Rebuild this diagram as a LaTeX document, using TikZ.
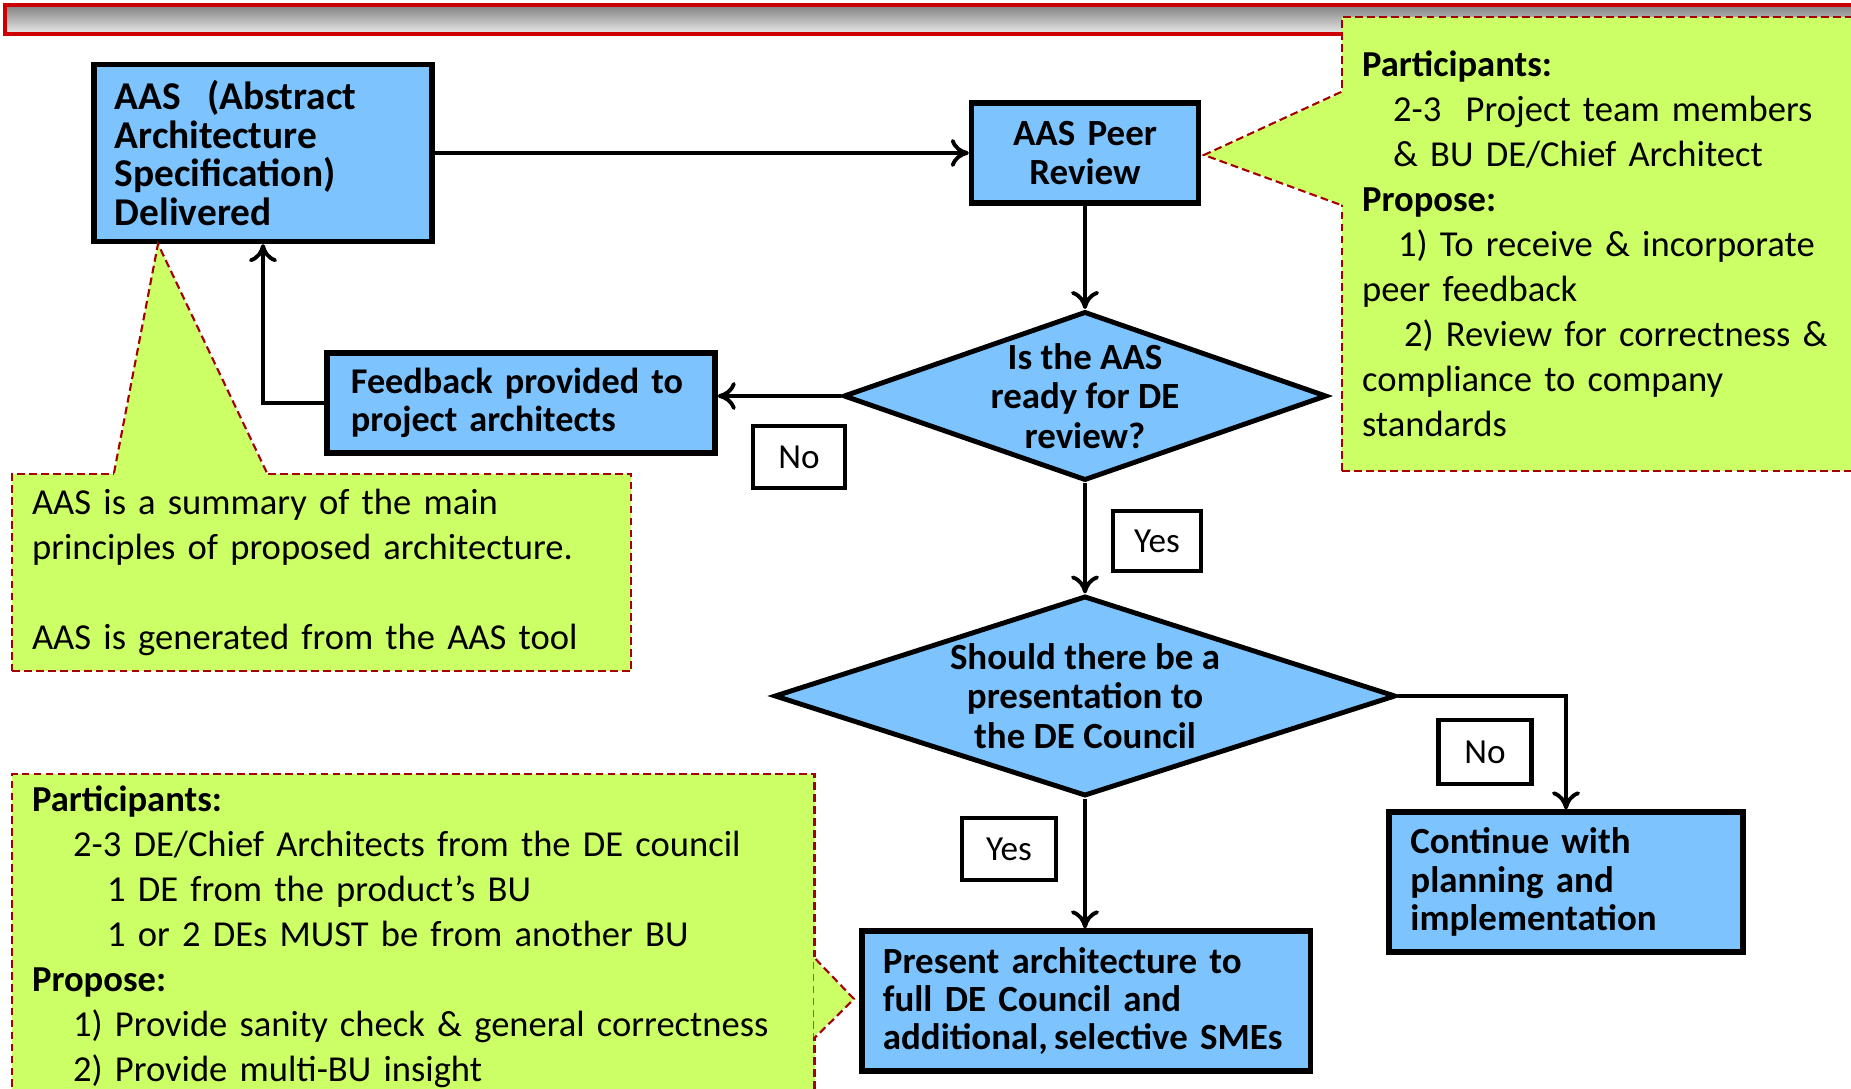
\documentclass[tikz,border=0pt]{standalone}
\usepackage{fontspec}
\setmainfont{Carlito}
\usetikzlibrary{shapes.geometric}
\usetikzlibrary{calc}
\usetikzlibrary{arrows.meta}
\definecolor{boxblue}{RGB}{125,196,255}
\definecolor{notegreen}{RGB}{204,255,102}
\definecolor{notered}{RGB}{165,0,0}
\definecolor{barred}{RGB}{204,0,0}

\begin{document}
\begin{tikzpicture}[x=0.01cm, y=-0.01cm, >={To[length=1.8mm, width=2.8mm]},
        stepbox/.style={draw, line width=1.5pt, fill=boxblue, rectangle, align=left, inner xsep=0.21cm,
            font=\fontsize{10.5}{10.9}\selectfont\bfseries},
        decision/.style={draw, line width=1.4pt, fill=boxblue, diamond, align=center, inner sep=-0.2cm,
            font=\fontsize{10.5}{11.2}\selectfont\bfseries},
        answer/.style={draw, line width=1.2pt, fill=white, rectangle, font=\fontsize{10}{12}\selectfont},
        link/.style={->, line width=1.1pt},
        notebox/.style={draw=notered, fill=notegreen, line width=0.6pt, dash pattern=on 2.2pt off 1.2pt,
            anchor=north west, align=left, inner xsep=0.2cm, font=\fontsize{10.4}{12.8}\selectfont},
        notepointer/.style={draw=notered, line width=0.6pt, dash pattern=on 2.2pt off 1.2pt}]
        \useasboundingbox (0,0) rectangle (1851,1089);
        \clip (0,0) rectangle (1851,1089);
        % title bar
        \draw[draw=barred, line width=1pt, top color=black!50, bottom color=black!8] (5,5) rectangle (1880,34);
        % flow
        \node [stepbox, text width=2.96cm, minimum width=3.38cm, minimum height=1.77cm,
            font=\fontsize{11.2}{11}\selectfont\bfseries] (aas) at (263,153)
            {AAS\ \ (Abstract\\ Architecture\\ Specification)\\ Delivered};
        \node [stepbox, align=center, text width=1.85cm, minimum width=2.27cm, minimum height=1cm] (peer) at (1085,153)
            {AAS Peer\\ Review};
        \node [decision, aspect=2.86, minimum width=4.83cm, minimum height=1.69cm] (ready) at (1085,396)
            {Is the AAS\\ ready for DE\\ review?};
        \node [stepbox, text width=3.4cm, inner xsep=0.24cm, minimum width=3.88cm, minimum height=1cm,
            font=\fontsize{10.3}{10.9}\selectfont\bfseries] (feedback) at (521,403)
            {Feedback provided to\\ project architects};
        \node [answer, minimum width=0.92cm, minimum height=0.62cm] (no1) at (799,457) {No};
        \node [answer, minimum width=0.88cm, minimum height=0.6cm] (yes1) at (1157,541) {Yes};
        \node [decision, aspect=3.1, minimum width=6.21cm, minimum height=2cm] (council) at (1085,696)
            {Should there be a\\ presentation to\\ the DE Council};
        \node [answer, minimum width=0.93cm, minimum height=0.64cm] (no2) at (1485,752) {No};
        \node [stepbox, text width=3.11cm, minimum width=3.54cm, minimum height=1.4cm] (cont) at (1566,882)
            {Continue with\\ planning and\\ implementation};
        \node [answer, minimum width=0.94cm, minimum height=0.62cm] (yes2) at (1009,849) {Yes};
        \node [stepbox, text width=4.06cm, minimum width=4.48cm, minimum height=1.4cm] (present) at (1086,1001)
            {Present architecture to\\ full DE Council and\\ additional,\,selective SMEs};
        \draw[link] (aas) -- (peer);
        \draw[link] (peer) -- (ready);
        \draw[link] (ready.west) -- (ready.west -| feedback.east);
        \draw[link] (feedback.west) -| (aas.south);
        \draw[link] (ready) -- (council);
        \draw[link] (council.east) -| (cont.north);
        \draw[link] (council.south) -- (council.south |- present.north);
        % notes
        \node [notebox, text width=5.79cm, minimum width=6.19cm, minimum height=1.97cm] (aasnote) at (11,473)
            {AAS is a summary of the main\\ principles of proposed architecture.\\[12.8pt]
             AAS is generated from the AAS tool};
        \node [notebox, text width=5.2cm, minimum width=5.6cm, minimum height=4.54cm] (peernote) at (1341,16)
            {\textbf{Participants:}\\
             \hspace*{0.31cm}2-3\ \ Project team members\\
             \hspace*{0.31cm}\& BU DE/Chief Architect\\
             \textbf{Propose:}\\
             \hspace*{0.36cm}1) To receive \& incorporate\\
             peer feedback\\
             \hspace*{0.42cm}2) Review for correctness \&\\
             compliance to company\\
             standards};
        \node [notebox, text width=7.62cm, minimum width=8.02cm, minimum height=3.22cm] (councilnote) at (11,773)
            {\textbf{Participants:}\\
             \hspace*{0.41cm}2-3 DE/Chief Architects from the DE council\\
             \hspace*{0.75cm}1 DE from the product’s BU\\
             \hspace*{0.75cm}1 or 2 DEs MUST be from another BU\\
             \textbf{Propose:}\\
             \hspace*{0.41cm}1) Provide sanity check \& general correctness\\
             \hspace*{0.41cm}2) Provide multi-BU insight};
        \coordinate (aastip) at (158,244);
        \coordinate (peertip) at (1204,155);
        \coordinate (counciltip) at (854,999);
        \fill[notegreen] ($(aasnote.north west)+(103,2)$) -- (aastip) -- ($(aasnote.north west)+(256,2)$) -- cycle;
        \draw[notepointer] ($(aasnote.north west)+(103,0)$) -- (aastip) -- ($(aasnote.north west)+(256,0)$);
        \fill[notegreen] ($(peernote.north west)+(2,76)$) -- (peertip) -- ($(peernote.north west)+(2,189)$) -- cycle;
        \draw[notepointer] ($(peernote.north west)+(0,76)$) -- (peertip) -- ($(peernote.north west)+(0,189)$);
        \fill[notegreen] ($(councilnote.north east)+(-2,186)$) -- (counciltip) -- ($(councilnote.north east)+(-2,264)$) -- cycle;
        \draw[notepointer] ($(councilnote.north east)+(0,186)$) -- (counciltip) -- ($(councilnote.north east)+(0,264)$);
    \end{tikzpicture}
\end{document}
